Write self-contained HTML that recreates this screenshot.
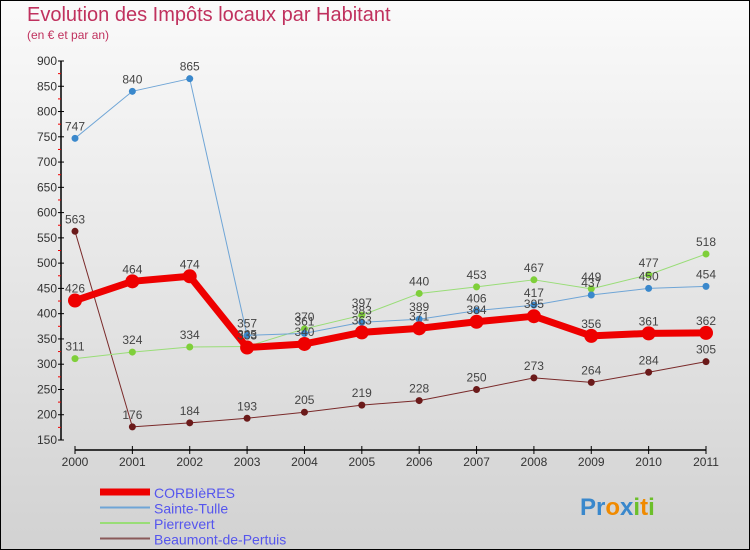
<!DOCTYPE html>
<html><head><meta charset="utf-8"><style>
html,body{margin:0;padding:0}
body{width:750px;height:550px;overflow:hidden;font-family:"Liberation Sans",sans-serif}
#wrap{position:relative;width:748px;height:548px;border:1px solid #000;background:linear-gradient(#fafafa,#d2d2d2)}
.t{position:absolute;color:#c0315e}
</style></head><body>
<div id="wrap">
<div class="t" style="left:26px;top:3px;font-size:20px">Evolution des Impôts locaux par Habitant</div>
<div class="t" style="left:26px;top:27px;font-size:12px">(en € et par an)</div>
<svg id="chart" width="750" height="550" style="position:absolute;left:-1px;top:-1px"></svg>
</div>
<script>
const years=["2000","2001","2002","2003","2004","2005","2006","2007","2008","2009","2010","2011"];
const corbieres=[426,464,474,333,340,363,371,384,395,356,361,362];
const sainteTulle=[747,840,865,357,361,383,389,406,417,437,450,454];
const pierrevert=[311,324,334,335,370,397,440,453,467,449,477,518];
const beaumont=[563,176,184,193,205,219,228,250,273,264,284,305];
const yTicks=[150,200,250,300,350,400,450,500,550,600,650,700,750,800,850,900];
const names=["CORBIèRES","Sainte-Tulle","Pierrevert","Beaumont-de-Pertuis"];
const NS="http://www.w3.org/2000/svg";
const svg=document.getElementById('chart');
const x=i=>75+i*(706-75)/(years.length-1);
const y=v=>440-(v-150)*(440-61)/750;
function mk(t,a,p){const e=document.createElementNS(NS,t);for(const k in a)e.setAttribute(k,a[k]);(p||svg).appendChild(e);return e;}
// axes
let ax=mk('line',{x1:61,y1:61,x2:61,y2:440,stroke:'#000','stroke-width':1.5});


let xa=mk('line',{x1:75,y1:450,x2:706,y2:450,stroke:'#000','stroke-width':1.5});


yTicks.forEach((v,i)=>{
 mk('line',{x1:58,y1:y(v),x2:64,y2:y(v),stroke:'#000'});
 if(i<yTicks.length-1) mk('line',{x1:58,y1:y(v+25),x2:61,y2:y(v+25),stroke:'#e00'});
 const t=mk('text',{x:57,y:y(v)+4,'text-anchor':'end','font-size':12,fill:'#333'});
 t.textContent=v;
 
 
});
years.forEach((yr,i)=>{
 mk('line',{x1:x(i),y1:446,x2:x(i),y2:454,stroke:'#000'});
 const t=mk('text',{x:x(i),y:466,'text-anchor':'middle','font-size':12,fill:'#333'});
 t.textContent=yr;
 
 
});
const series=[
 {d:beaumont,c:'#7a2a2a',dot:'#6b1a1a',w:1,r:3.5,n:'beaumont-series'},
 {d:pierrevert,c:'#99dd77',dot:'#7fcf3a',w:1,r:3.5,n:'pierrevert-series'},
 {d:sainteTulle,c:'#6fa5d6',dot:'#3a88cc',w:1,r:3.5,n:'sainte-tulle-series'},
 {d:corbieres,c:'#ee0000',dot:'#ee0000',w:7,r:7,n:'corbieres-series'}];
series.forEach(s=>{
 const g=mk('g',{});
 
 
 mk('polyline',{points:s.d.map((v,i)=>x(i)+','+y(v)).join(' '),fill:'none',stroke:s.c,'stroke-width':s.w,'stroke-linejoin':'round'},g);
 s.d.forEach((v,i)=>{
  const c=mk('circle',{cx:x(i),cy:y(v),r:s.r,fill:s.dot},g);
  
  
  const t=mk('text',{x:x(i),y:y(v)-8,'text-anchor':'middle','font-size':12,fill:'#444'},g);
  t.textContent=v;
 });
});
// legend
const lc=['#ee0000','#6fa5d6','#99dd77','#8a5a5a'];
names.forEach((n,i)=>{
 const ly=492+i*15.5;
 const g=mk('g',{});
 
 
 mk('line',{x1:100,y1:ly,x2:150,y2:ly,stroke:lc[i],'stroke-width':i?2:7},g);
 const t=mk('text',{x:154,y:ly+6,'font-size':14,fill:'#5555ee'},g);
 t.textContent=n;
});
const logo=mk('text',{x:580,y:515,'font-size':24,'font-weight':'bold','font-family':'Liberation Sans'});


[['Pr','#3a88cc'],['o','#f08a00'],['x','#3a88cc'],['i','#6cbf2a'],['t','#f08a00'],['i','#6cbf2a']].forEach(([s,c])=>{const ts=mk('tspan',{fill:c},logo);ts.textContent=s;});
</script>
</body></html>
